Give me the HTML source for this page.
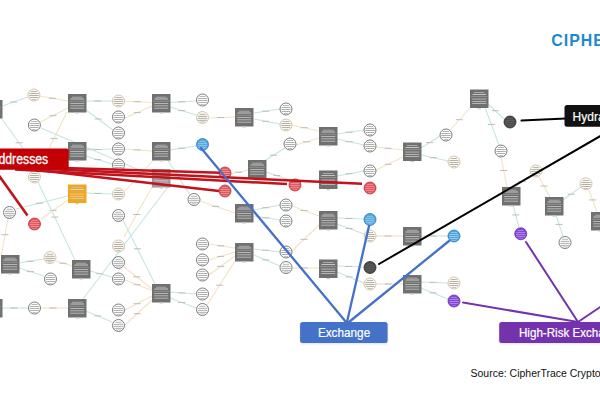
<!DOCTYPE html>
<html><head><meta charset="utf-8"><style>
html,body{margin:0;padding:0;background:#fff;width:600px;height:400px;overflow:hidden;position:relative;font-family:"Liberation Sans",sans-serif;}
svg{position:absolute;left:0;top:0;}
svg.g{filter:blur(0.4px);}
</style></head><body>
<svg width="600" height="400" viewBox="0 0 600 400" class="g"><line x1="2.5" y1="106" x2="27.5" y2="97" stroke="#c6e6e1" stroke-width="1.1"/><rect x="10.2" y="101.5" width="7" height="1" fill="#bdbdbd"/><line x1="40" y1="96" x2="68" y2="101" stroke="#f5e2c2" stroke-width="1.1"/><rect x="49.1" y="97.8" width="7" height="1" fill="#bdbdbd"/><line x1="40.5" y1="122" x2="68" y2="108" stroke="#f5e2c2" stroke-width="1.1"/><rect x="49.4" y="115.2" width="7" height="1" fill="#bdbdbd"/><line x1="67" y1="112" x2="38" y2="171" stroke="#f5e2c2" stroke-width="1.1"/><rect x="50.5" y="138.1" width="7" height="1" fill="#bdbdbd"/><line x1="2" y1="119" x2="40" y2="172" stroke="#c6e6e1" stroke-width="1.1"/><rect x="15.6" y="142.3" width="7" height="1" fill="#bdbdbd"/><line x1="86" y1="101" x2="112" y2="101" stroke="#c6e6e1" stroke-width="1.1"/><rect x="94.2" y="100.5" width="7" height="1" fill="#bdbdbd"/><line x1="86" y1="110" x2="113" y2="130" stroke="#c6e6e1" stroke-width="1.1"/><rect x="94.7" y="118.5" width="7" height="1" fill="#bdbdbd"/><line x1="41" y1="128" x2="151" y2="175" stroke="#c6e6e1" stroke-width="1.1"/><rect x="87.0" y="148.7" width="7" height="1" fill="#bdbdbd"/><line x1="86" y1="150" x2="112" y2="149" stroke="#c6e6e1" stroke-width="1.1"/><rect x="94.2" y="149.1" width="7" height="1" fill="#bdbdbd"/><line x1="86" y1="156" x2="112" y2="164" stroke="#c6e6e1" stroke-width="1.1"/><rect x="94.2" y="159.1" width="7" height="1" fill="#bdbdbd"/><line x1="125" y1="101" x2="152" y2="102.5" stroke="#f5e2c2" stroke-width="1.1"/><rect x="133.7" y="101.2" width="7" height="1" fill="#bdbdbd"/><line x1="125" y1="118" x2="152" y2="106" stroke="#f5e2c2" stroke-width="1.1"/><rect x="133.7" y="112.1" width="7" height="1" fill="#bdbdbd"/><line x1="170" y1="102.5" x2="196" y2="101" stroke="#c6e6e1" stroke-width="1.1"/><rect x="178.2" y="101.3" width="7" height="1" fill="#bdbdbd"/><line x1="170" y1="107" x2="196" y2="115" stroke="#c6e6e1" stroke-width="1.1"/><rect x="178.2" y="110.1" width="7" height="1" fill="#bdbdbd"/><line x1="125" y1="149" x2="152" y2="151" stroke="#f5e2c2" stroke-width="1.1"/><rect x="133.7" y="149.4" width="7" height="1" fill="#bdbdbd"/><line x1="170" y1="150" x2="196" y2="146" stroke="#c6e6e1" stroke-width="1.1"/><rect x="178.2" y="147.7" width="7" height="1" fill="#bdbdbd"/><line x1="168" y1="160.5" x2="190" y2="195" stroke="#c6e6e1" stroke-width="1.1"/><rect x="174.4" y="175.5" width="7" height="1" fill="#bdbdbd"/><line x1="153" y1="160.5" x2="125" y2="191" stroke="#f5e2c2" stroke-width="1.1"/><rect x="136.9" y="173.7" width="7" height="1" fill="#bdbdbd"/><line x1="209" y1="118" x2="235" y2="117" stroke="#f5e2c2" stroke-width="1.1"/><rect x="217.2" y="117.0" width="7" height="1" fill="#bdbdbd"/><line x1="254" y1="113" x2="280" y2="109" stroke="#c6e6e1" stroke-width="1.1"/><rect x="262.2" y="110.7" width="7" height="1" fill="#bdbdbd"/><line x1="254" y1="119" x2="280" y2="124" stroke="#c6e6e1" stroke-width="1.1"/><rect x="262.2" y="120.8" width="7" height="1" fill="#bdbdbd"/><line x1="292" y1="125" x2="319" y2="131" stroke="#f5e2c2" stroke-width="1.1"/><rect x="300.6" y="127.2" width="7" height="1" fill="#bdbdbd"/><line x1="296" y1="145" x2="319" y2="138" stroke="#f5e2c2" stroke-width="1.1"/><rect x="302.9" y="141.3" width="7" height="1" fill="#bdbdbd"/><line x1="337" y1="134" x2="364" y2="130" stroke="#c6e6e1" stroke-width="1.1"/><rect x="345.6" y="131.7" width="7" height="1" fill="#bdbdbd"/><line x1="337" y1="139" x2="364" y2="145" stroke="#c6e6e1" stroke-width="1.1"/><rect x="345.6" y="141.2" width="7" height="1" fill="#bdbdbd"/><line x1="376" y1="147" x2="403" y2="150" stroke="#f5e2c2" stroke-width="1.1"/><rect x="384.6" y="147.8" width="7" height="1" fill="#bdbdbd"/><line x1="376" y1="170" x2="403" y2="157" stroke="#f5e2c2" stroke-width="1.1"/><rect x="384.6" y="163.7" width="7" height="1" fill="#bdbdbd"/><line x1="337" y1="176" x2="364" y2="171" stroke="#c6e6e1" stroke-width="1.1"/><rect x="345.6" y="173.2" width="7" height="1" fill="#bdbdbd"/><line x1="231" y1="174" x2="248" y2="170" stroke="#f5e2c2" stroke-width="1.1"/><rect x="235.2" y="171.7" width="7" height="1" fill="#bdbdbd"/><line x1="264" y1="161" x2="285" y2="148" stroke="#c6e6e1" stroke-width="1.1"/><rect x="269.9" y="154.7" width="7" height="1" fill="#bdbdbd"/><line x1="266" y1="172" x2="290" y2="180" stroke="#c6e6e1" stroke-width="1.1"/><rect x="273.3" y="175.1" width="7" height="1" fill="#bdbdbd"/><line x1="86" y1="193" x2="112" y2="194" stroke="#c6e6e1" stroke-width="1.1"/><rect x="94.2" y="192.9" width="7" height="1" fill="#bdbdbd"/><line x1="16" y1="209" x2="68" y2="196" stroke="#c6e6e1" stroke-width="1.1"/><rect x="35.9" y="202.7" width="7" height="1" fill="#bdbdbd"/><line x1="41" y1="219" x2="68" y2="200" stroke="#f5e2c2" stroke-width="1.1"/><rect x="49.6" y="209.9" width="7" height="1" fill="#bdbdbd"/><line x1="38" y1="182" x2="75" y2="260" stroke="#c6e6e1" stroke-width="1.1"/><rect x="51.2" y="216.6" width="7" height="1" fill="#bdbdbd"/><line x1="8" y1="218" x2="1.4" y2="255" stroke="#f5e2c2" stroke-width="1.1"/><rect x="1.5" y="234.2" width="7" height="1" fill="#bdbdbd"/><line x1="19" y1="263" x2="43.5" y2="259" stroke="#c6e6e1" stroke-width="1.1"/><rect x="26.5" y="260.7" width="7" height="1" fill="#bdbdbd"/><line x1="19" y1="268" x2="44" y2="276" stroke="#c6e6e1" stroke-width="1.1"/><rect x="26.8" y="271.1" width="7" height="1" fill="#bdbdbd"/><line x1="56" y1="261" x2="72" y2="266" stroke="#f5e2c2" stroke-width="1.1"/><rect x="59.7" y="262.8" width="7" height="1" fill="#bdbdbd"/><line x1="90" y1="271" x2="112" y2="277" stroke="#c6e6e1" stroke-width="1.1"/><rect x="96.4" y="273.2" width="7" height="1" fill="#bdbdbd"/><line x1="2" y1="308" x2="28.5" y2="308" stroke="#c6e6e1" stroke-width="1.1"/><rect x="10.4" y="307.5" width="7" height="1" fill="#bdbdbd"/><line x1="41" y1="308" x2="68" y2="308" stroke="#f5e2c2" stroke-width="1.1"/><rect x="49.6" y="307.5" width="7" height="1" fill="#bdbdbd"/><line x1="83" y1="299" x2="168" y2="187" stroke="#c6e6e1" stroke-width="1.1"/><rect x="117.8" y="248.1" width="7" height="1" fill="#bdbdbd"/><line x1="86" y1="311" x2="112" y2="322" stroke="#c6e6e1" stroke-width="1.1"/><rect x="94.2" y="315.4" width="7" height="1" fill="#bdbdbd"/><line x1="124" y1="237" x2="152" y2="187" stroke="#f5e2c2" stroke-width="1.1"/><rect x="133.1" y="214.0" width="7" height="1" fill="#bdbdbd"/><line x1="124" y1="267" x2="152" y2="288.7" stroke="#f5e2c2" stroke-width="1.1"/><rect x="133.1" y="276.3" width="7" height="1" fill="#bdbdbd"/><line x1="125" y1="280" x2="152" y2="290.4" stroke="#f5e2c2" stroke-width="1.1"/><rect x="133.7" y="284.2" width="7" height="1" fill="#bdbdbd"/><line x1="170" y1="292" x2="196" y2="294" stroke="#c6e6e1" stroke-width="1.1"/><rect x="178.2" y="292.4" width="7" height="1" fill="#bdbdbd"/><line x1="170" y1="298" x2="196" y2="308" stroke="#c6e6e1" stroke-width="1.1"/><rect x="178.2" y="302.0" width="7" height="1" fill="#bdbdbd"/><line x1="123" y1="220" x2="155" y2="284" stroke="#c6e6e1" stroke-width="1.1"/><rect x="133.9" y="248.3" width="7" height="1" fill="#bdbdbd"/><line x1="125" y1="310" x2="152" y2="296" stroke="#f5e2c2" stroke-width="1.1"/><rect x="133.7" y="303.2" width="7" height="1" fill="#bdbdbd"/><line x1="125" y1="325" x2="152" y2="300" stroke="#f5e2c2" stroke-width="1.1"/><rect x="133.7" y="313.2" width="7" height="1" fill="#bdbdbd"/><line x1="207" y1="305" x2="235" y2="261" stroke="#f5e2c2" stroke-width="1.1"/><rect x="216.1" y="284.7" width="7" height="1" fill="#bdbdbd"/><line x1="200" y1="201" x2="235" y2="213" stroke="#f5e2c2" stroke-width="1.1"/><rect x="212.2" y="205.9" width="7" height="1" fill="#bdbdbd"/><line x1="209" y1="244" x2="235" y2="248" stroke="#f5e2c2" stroke-width="1.1"/><rect x="217.2" y="245.3" width="7" height="1" fill="#bdbdbd"/><line x1="209" y1="260" x2="235" y2="252" stroke="#f5e2c2" stroke-width="1.1"/><rect x="217.2" y="255.9" width="7" height="1" fill="#bdbdbd"/><line x1="209" y1="275" x2="235" y2="256" stroke="#f5e2c2" stroke-width="1.1"/><rect x="217.2" y="265.9" width="7" height="1" fill="#bdbdbd"/><line x1="254" y1="210" x2="280" y2="205" stroke="#c6e6e1" stroke-width="1.1"/><rect x="262.2" y="207.2" width="7" height="1" fill="#bdbdbd"/><line x1="254" y1="216" x2="280" y2="220" stroke="#c6e6e1" stroke-width="1.1"/><rect x="262.2" y="217.3" width="7" height="1" fill="#bdbdbd"/><line x1="292" y1="206" x2="319" y2="216" stroke="#f5e2c2" stroke-width="1.1"/><rect x="300.6" y="210.0" width="7" height="1" fill="#bdbdbd"/><line x1="292" y1="251" x2="319" y2="225" stroke="#f5e2c2" stroke-width="1.1"/><rect x="300.6" y="238.8" width="7" height="1" fill="#bdbdbd"/><line x1="337" y1="218" x2="364" y2="219" stroke="#c6e6e1" stroke-width="1.1"/><rect x="345.6" y="217.9" width="7" height="1" fill="#bdbdbd"/><line x1="337" y1="224" x2="364" y2="234" stroke="#c6e6e1" stroke-width="1.1"/><rect x="345.6" y="228.0" width="7" height="1" fill="#bdbdbd"/><line x1="376" y1="236" x2="403" y2="236" stroke="#f5e2c2" stroke-width="1.1"/><rect x="384.6" y="235.5" width="7" height="1" fill="#bdbdbd"/><line x1="254" y1="249" x2="280" y2="252" stroke="#c6e6e1" stroke-width="1.1"/><rect x="262.2" y="249.8" width="7" height="1" fill="#bdbdbd"/><line x1="254" y1="255" x2="280" y2="266" stroke="#c6e6e1" stroke-width="1.1"/><rect x="262.2" y="259.4" width="7" height="1" fill="#bdbdbd"/><line x1="292" y1="268" x2="319" y2="268" stroke="#f5e2c2" stroke-width="1.1"/><rect x="300.6" y="267.5" width="7" height="1" fill="#bdbdbd"/><line x1="337" y1="266" x2="363" y2="267" stroke="#c6e6e1" stroke-width="1.1"/><rect x="345.2" y="265.9" width="7" height="1" fill="#bdbdbd"/><line x1="337" y1="272" x2="364" y2="283" stroke="#c6e6e1" stroke-width="1.1"/><rect x="345.6" y="276.4" width="7" height="1" fill="#bdbdbd"/><line x1="376" y1="284" x2="403" y2="284" stroke="#f5e2c2" stroke-width="1.1"/><rect x="384.6" y="283.5" width="7" height="1" fill="#bdbdbd"/><line x1="421" y1="148" x2="440" y2="136" stroke="#c6e6e1" stroke-width="1.1"/><rect x="426.1" y="142.1" width="7" height="1" fill="#bdbdbd"/><line x1="421" y1="155" x2="448" y2="161" stroke="#c6e6e1" stroke-width="1.1"/><rect x="429.6" y="157.2" width="7" height="1" fill="#bdbdbd"/><line x1="450" y1="130" x2="471" y2="107" stroke="#f5e2c2" stroke-width="1.1"/><rect x="455.9" y="119.2" width="7" height="1" fill="#bdbdbd"/><line x1="488" y1="104" x2="504" y2="119" stroke="#c6e6e1" stroke-width="1.1"/><rect x="491.7" y="110.2" width="7" height="1" fill="#bdbdbd"/><line x1="485" y1="107.5" x2="499" y2="145" stroke="#c6e6e1" stroke-width="1.1"/><rect x="487.8" y="123.9" width="7" height="1" fill="#bdbdbd"/><line x1="501" y1="157" x2="507" y2="187" stroke="#f5e2c2" stroke-width="1.1"/><rect x="500.2" y="170.0" width="7" height="1" fill="#bdbdbd"/><line x1="515" y1="187" x2="531" y2="175" stroke="#c6e6e1" stroke-width="1.1"/><rect x="518.7" y="181.1" width="7" height="1" fill="#bdbdbd"/><line x1="539" y1="177" x2="550" y2="197" stroke="#f5e2c2" stroke-width="1.1"/><rect x="540.5" y="185.5" width="7" height="1" fill="#bdbdbd"/><line x1="563" y1="200" x2="581" y2="187" stroke="#c6e6e1" stroke-width="1.1"/><rect x="567.6" y="193.7" width="7" height="1" fill="#bdbdbd"/><line x1="589" y1="190" x2="597" y2="212" stroke="#f5e2c2" stroke-width="1.1"/><rect x="589.1" y="199.4" width="7" height="1" fill="#bdbdbd"/><line x1="421" y1="236" x2="448" y2="236" stroke="#c6e6e1" stroke-width="1.1"/><rect x="429.6" y="235.5" width="7" height="1" fill="#bdbdbd"/><line x1="513" y1="205" x2="519" y2="227" stroke="#c6e6e1" stroke-width="1.1"/><rect x="512.2" y="214.4" width="7" height="1" fill="#bdbdbd"/><line x1="556" y1="215" x2="563" y2="236" stroke="#c6e6e1" stroke-width="1.1"/><rect x="555.6" y="223.9" width="7" height="1" fill="#bdbdbd"/><line x1="421" y1="282" x2="448" y2="283" stroke="#c6e6e1" stroke-width="1.1"/><rect x="429.6" y="281.9" width="7" height="1" fill="#bdbdbd"/><line x1="421" y1="288" x2="448" y2="299" stroke="#c6e6e1" stroke-width="1.1"/><rect x="429.6" y="292.4" width="7" height="1" fill="#bdbdbd"/><g transform="translate(-16,100)"><rect x="0" y="0" width="18.5" height="18.5" fill="#707070"/><rect x="4" y="2.8" width="10.5" height="0.7" fill="#c4c4c4"/><rect x="2.5" y="4.6" width="13.5" height="0.8" fill="#dedede"/><rect x="1.2" y="6.9" width="16" height="0.5" fill="#b0b0b0"/><rect x="2.2" y="9.2" width="14" height="0.7" fill="#d4d4d4"/><rect x="2.2" y="11.5" width="14" height="0.7" fill="#d4d4d4"/><rect x="2.2" y="13.8" width="14" height="0.7" fill="#d4d4d4"/><rect x="7.5" y="18.5" width="3.5" height="1.2" fill="#d0d0d0"/></g><g transform="translate(68,94)"><rect x="0" y="0" width="18.5" height="18.5" fill="#707070"/><rect x="4" y="2.8" width="10.5" height="0.7" fill="#c4c4c4"/><rect x="2.5" y="4.6" width="13.5" height="0.8" fill="#dedede"/><rect x="1.2" y="6.9" width="16" height="0.5" fill="#b0b0b0"/><rect x="2.2" y="9.2" width="14" height="0.7" fill="#d4d4d4"/><rect x="2.2" y="11.5" width="14" height="0.7" fill="#d4d4d4"/><rect x="2.2" y="13.8" width="14" height="0.7" fill="#d4d4d4"/><rect x="7.5" y="18.5" width="3.5" height="1.2" fill="#d0d0d0"/></g><g transform="translate(68,142)"><rect x="0" y="0" width="18.5" height="18.5" fill="#707070"/><rect x="4" y="2.8" width="10.5" height="0.7" fill="#c4c4c4"/><rect x="2.5" y="4.6" width="13.5" height="0.8" fill="#dedede"/><rect x="1.2" y="6.9" width="16" height="0.5" fill="#b0b0b0"/><rect x="2.2" y="9.2" width="14" height="0.7" fill="#d4d4d4"/><rect x="2.2" y="11.5" width="14" height="0.7" fill="#d4d4d4"/><rect x="2.2" y="13.8" width="14" height="0.7" fill="#d4d4d4"/><rect x="7.5" y="18.5" width="3.5" height="1.2" fill="#d0d0d0"/></g><g transform="translate(152,94)"><rect x="0" y="0" width="18.5" height="18.5" fill="#707070"/><rect x="4" y="2.8" width="10.5" height="0.7" fill="#c4c4c4"/><rect x="2.5" y="4.6" width="13.5" height="0.8" fill="#dedede"/><rect x="1.2" y="6.9" width="16" height="0.5" fill="#b0b0b0"/><rect x="2.2" y="9.2" width="14" height="0.7" fill="#d4d4d4"/><rect x="2.2" y="11.5" width="14" height="0.7" fill="#d4d4d4"/><rect x="2.2" y="13.8" width="14" height="0.7" fill="#d4d4d4"/><rect x="7.5" y="18.5" width="3.5" height="1.2" fill="#d0d0d0"/></g><g transform="translate(152,142)"><rect x="0" y="0" width="18.5" height="18.5" fill="#707070"/><rect x="4" y="2.8" width="10.5" height="0.7" fill="#c4c4c4"/><rect x="2.5" y="4.6" width="13.5" height="0.8" fill="#dedede"/><rect x="1.2" y="6.9" width="16" height="0.5" fill="#b0b0b0"/><rect x="2.2" y="9.2" width="14" height="0.7" fill="#d4d4d4"/><rect x="2.2" y="11.5" width="14" height="0.7" fill="#d4d4d4"/><rect x="2.2" y="13.8" width="14" height="0.7" fill="#d4d4d4"/><rect x="7.5" y="18.5" width="3.5" height="1.2" fill="#d0d0d0"/></g><g transform="translate(235,108)"><rect x="0" y="0" width="18.5" height="18.5" fill="#707070"/><rect x="4" y="2.8" width="10.5" height="0.7" fill="#c4c4c4"/><rect x="2.5" y="4.6" width="13.5" height="0.8" fill="#dedede"/><rect x="1.2" y="6.9" width="16" height="0.5" fill="#b0b0b0"/><rect x="2.2" y="9.2" width="14" height="0.7" fill="#d4d4d4"/><rect x="2.2" y="11.5" width="14" height="0.7" fill="#d4d4d4"/><rect x="2.2" y="13.8" width="14" height="0.7" fill="#d4d4d4"/><rect x="7.5" y="18.5" width="3.5" height="1.2" fill="#d0d0d0"/></g><g transform="translate(248,160)"><rect x="0" y="0" width="18.5" height="18.5" fill="#707070"/><rect x="4" y="2.8" width="10.5" height="0.7" fill="#c4c4c4"/><rect x="2.5" y="4.6" width="13.5" height="0.8" fill="#dedede"/><rect x="1.2" y="6.9" width="16" height="0.5" fill="#b0b0b0"/><rect x="2.2" y="9.2" width="14" height="0.7" fill="#d4d4d4"/><rect x="2.2" y="11.5" width="14" height="0.7" fill="#d4d4d4"/><rect x="2.2" y="13.8" width="14" height="0.7" fill="#d4d4d4"/><rect x="7.5" y="18.5" width="3.5" height="1.2" fill="#d0d0d0"/></g><g transform="translate(235,204)"><rect x="0" y="0" width="18.5" height="18.5" fill="#707070"/><rect x="4" y="2.8" width="10.5" height="0.7" fill="#c4c4c4"/><rect x="2.5" y="4.6" width="13.5" height="0.8" fill="#dedede"/><rect x="1.2" y="6.9" width="16" height="0.5" fill="#b0b0b0"/><rect x="2.2" y="9.2" width="14" height="0.7" fill="#d4d4d4"/><rect x="2.2" y="11.5" width="14" height="0.7" fill="#d4d4d4"/><rect x="2.2" y="13.8" width="14" height="0.7" fill="#d4d4d4"/><rect x="7.5" y="18.5" width="3.5" height="1.2" fill="#d0d0d0"/></g><g transform="translate(235,243)"><rect x="0" y="0" width="18.5" height="18.5" fill="#707070"/><rect x="4" y="2.8" width="10.5" height="0.7" fill="#c4c4c4"/><rect x="2.5" y="4.6" width="13.5" height="0.8" fill="#dedede"/><rect x="1.2" y="6.9" width="16" height="0.5" fill="#b0b0b0"/><rect x="2.2" y="9.2" width="14" height="0.7" fill="#d4d4d4"/><rect x="2.2" y="11.5" width="14" height="0.7" fill="#d4d4d4"/><rect x="2.2" y="13.8" width="14" height="0.7" fill="#d4d4d4"/><rect x="7.5" y="18.5" width="3.5" height="1.2" fill="#d0d0d0"/></g><g transform="translate(152,284)"><rect x="0" y="0" width="18.5" height="18.5" fill="#707070"/><rect x="4" y="2.8" width="10.5" height="0.7" fill="#c4c4c4"/><rect x="2.5" y="4.6" width="13.5" height="0.8" fill="#dedede"/><rect x="1.2" y="6.9" width="16" height="0.5" fill="#b0b0b0"/><rect x="2.2" y="9.2" width="14" height="0.7" fill="#d4d4d4"/><rect x="2.2" y="11.5" width="14" height="0.7" fill="#d4d4d4"/><rect x="2.2" y="13.8" width="14" height="0.7" fill="#d4d4d4"/><rect x="7.5" y="18.5" width="3.5" height="1.2" fill="#d0d0d0"/></g><g transform="translate(319,127)"><rect x="0" y="0" width="18.5" height="18.5" fill="#707070"/><rect x="4" y="2.8" width="10.5" height="0.7" fill="#c4c4c4"/><rect x="2.5" y="4.6" width="13.5" height="0.8" fill="#dedede"/><rect x="1.2" y="6.9" width="16" height="0.5" fill="#b0b0b0"/><rect x="2.2" y="9.2" width="14" height="0.7" fill="#d4d4d4"/><rect x="2.2" y="11.5" width="14" height="0.7" fill="#d4d4d4"/><rect x="2.2" y="13.8" width="14" height="0.7" fill="#d4d4d4"/><rect x="7.5" y="18.5" width="3.5" height="1.2" fill="#d0d0d0"/></g><g transform="translate(319,170.5)"><rect x="0" y="0" width="18.5" height="18.5" fill="#707070"/><rect x="4" y="2.8" width="10.5" height="0.7" fill="#c4c4c4"/><rect x="2.5" y="4.6" width="13.5" height="0.8" fill="#dedede"/><rect x="1.2" y="6.9" width="16" height="0.5" fill="#b0b0b0"/><rect x="2.2" y="9.2" width="14" height="0.7" fill="#d4d4d4"/><rect x="2.2" y="11.5" width="14" height="0.7" fill="#d4d4d4"/><rect x="2.2" y="13.8" width="14" height="0.7" fill="#d4d4d4"/><rect x="7.5" y="18.5" width="3.5" height="1.2" fill="#d0d0d0"/></g><g transform="translate(319,211)"><rect x="0" y="0" width="18.5" height="18.5" fill="#707070"/><rect x="4" y="2.8" width="10.5" height="0.7" fill="#c4c4c4"/><rect x="2.5" y="4.6" width="13.5" height="0.8" fill="#dedede"/><rect x="1.2" y="6.9" width="16" height="0.5" fill="#b0b0b0"/><rect x="2.2" y="9.2" width="14" height="0.7" fill="#d4d4d4"/><rect x="2.2" y="11.5" width="14" height="0.7" fill="#d4d4d4"/><rect x="2.2" y="13.8" width="14" height="0.7" fill="#d4d4d4"/><rect x="7.5" y="18.5" width="3.5" height="1.2" fill="#d0d0d0"/></g><g transform="translate(319,259.5)"><rect x="0" y="0" width="18.5" height="18.5" fill="#707070"/><rect x="4" y="2.8" width="10.5" height="0.7" fill="#c4c4c4"/><rect x="2.5" y="4.6" width="13.5" height="0.8" fill="#dedede"/><rect x="1.2" y="6.9" width="16" height="0.5" fill="#b0b0b0"/><rect x="2.2" y="9.2" width="14" height="0.7" fill="#d4d4d4"/><rect x="2.2" y="11.5" width="14" height="0.7" fill="#d4d4d4"/><rect x="2.2" y="13.8" width="14" height="0.7" fill="#d4d4d4"/><rect x="7.5" y="18.5" width="3.5" height="1.2" fill="#d0d0d0"/></g><g transform="translate(403,275)"><rect x="0" y="0" width="18.5" height="18.5" fill="#707070"/><rect x="4" y="2.8" width="10.5" height="0.7" fill="#c4c4c4"/><rect x="2.5" y="4.6" width="13.5" height="0.8" fill="#dedede"/><rect x="1.2" y="6.9" width="16" height="0.5" fill="#b0b0b0"/><rect x="2.2" y="9.2" width="14" height="0.7" fill="#d4d4d4"/><rect x="2.2" y="11.5" width="14" height="0.7" fill="#d4d4d4"/><rect x="2.2" y="13.8" width="14" height="0.7" fill="#d4d4d4"/><rect x="7.5" y="18.5" width="3.5" height="1.2" fill="#d0d0d0"/></g><g transform="translate(403,142.5)"><rect x="0" y="0" width="18.5" height="18.5" fill="#707070"/><rect x="4" y="2.8" width="10.5" height="0.7" fill="#c4c4c4"/><rect x="2.5" y="4.6" width="13.5" height="0.8" fill="#dedede"/><rect x="1.2" y="6.9" width="16" height="0.5" fill="#b0b0b0"/><rect x="2.2" y="9.2" width="14" height="0.7" fill="#d4d4d4"/><rect x="2.2" y="11.5" width="14" height="0.7" fill="#d4d4d4"/><rect x="2.2" y="13.8" width="14" height="0.7" fill="#d4d4d4"/><rect x="7.5" y="18.5" width="3.5" height="1.2" fill="#d0d0d0"/></g><g transform="translate(403,227)"><rect x="0" y="0" width="18.5" height="18.5" fill="#707070"/><rect x="4" y="2.8" width="10.5" height="0.7" fill="#c4c4c4"/><rect x="2.5" y="4.6" width="13.5" height="0.8" fill="#dedede"/><rect x="1.2" y="6.9" width="16" height="0.5" fill="#b0b0b0"/><rect x="2.2" y="9.2" width="14" height="0.7" fill="#d4d4d4"/><rect x="2.2" y="11.5" width="14" height="0.7" fill="#d4d4d4"/><rect x="2.2" y="13.8" width="14" height="0.7" fill="#d4d4d4"/><rect x="7.5" y="18.5" width="3.5" height="1.2" fill="#d0d0d0"/></g><g transform="translate(470,89.5)"><rect x="0" y="0" width="18.5" height="18.5" fill="#707070"/><rect x="4" y="2.8" width="10.5" height="0.7" fill="#c4c4c4"/><rect x="2.5" y="4.6" width="13.5" height="0.8" fill="#dedede"/><rect x="1.2" y="6.9" width="16" height="0.5" fill="#b0b0b0"/><rect x="2.2" y="9.2" width="14" height="0.7" fill="#d4d4d4"/><rect x="2.2" y="11.5" width="14" height="0.7" fill="#d4d4d4"/><rect x="2.2" y="13.8" width="14" height="0.7" fill="#d4d4d4"/><rect x="7.5" y="18.5" width="3.5" height="1.2" fill="#d0d0d0"/></g><g transform="translate(502,187)"><rect x="0" y="0" width="18.5" height="18.5" fill="#707070"/><rect x="4" y="2.8" width="10.5" height="0.7" fill="#c4c4c4"/><rect x="2.5" y="4.6" width="13.5" height="0.8" fill="#dedede"/><rect x="1.2" y="6.9" width="16" height="0.5" fill="#b0b0b0"/><rect x="2.2" y="9.2" width="14" height="0.7" fill="#d4d4d4"/><rect x="2.2" y="11.5" width="14" height="0.7" fill="#d4d4d4"/><rect x="2.2" y="13.8" width="14" height="0.7" fill="#d4d4d4"/><rect x="7.5" y="18.5" width="3.5" height="1.2" fill="#d0d0d0"/></g><g transform="translate(545,197)"><rect x="0" y="0" width="18.5" height="18.5" fill="#707070"/><rect x="4" y="2.8" width="10.5" height="0.7" fill="#c4c4c4"/><rect x="2.5" y="4.6" width="13.5" height="0.8" fill="#dedede"/><rect x="1.2" y="6.9" width="16" height="0.5" fill="#b0b0b0"/><rect x="2.2" y="9.2" width="14" height="0.7" fill="#d4d4d4"/><rect x="2.2" y="11.5" width="14" height="0.7" fill="#d4d4d4"/><rect x="2.2" y="13.8" width="14" height="0.7" fill="#d4d4d4"/><rect x="7.5" y="18.5" width="3.5" height="1.2" fill="#d0d0d0"/></g><g transform="translate(591,212)"><rect x="0" y="0" width="18.5" height="18.5" fill="#707070"/><rect x="4" y="2.8" width="10.5" height="0.7" fill="#c4c4c4"/><rect x="2.5" y="4.6" width="13.5" height="0.8" fill="#dedede"/><rect x="1.2" y="6.9" width="16" height="0.5" fill="#b0b0b0"/><rect x="2.2" y="9.2" width="14" height="0.7" fill="#d4d4d4"/><rect x="2.2" y="11.5" width="14" height="0.7" fill="#d4d4d4"/><rect x="2.2" y="13.8" width="14" height="0.7" fill="#d4d4d4"/><rect x="7.5" y="18.5" width="3.5" height="1.2" fill="#d0d0d0"/></g><g transform="translate(1,255)"><rect x="0" y="0" width="18.5" height="18.5" fill="#707070"/><rect x="4" y="2.8" width="10.5" height="0.7" fill="#c4c4c4"/><rect x="2.5" y="4.6" width="13.5" height="0.8" fill="#dedede"/><rect x="1.2" y="6.9" width="16" height="0.5" fill="#b0b0b0"/><rect x="2.2" y="9.2" width="14" height="0.7" fill="#d4d4d4"/><rect x="2.2" y="11.5" width="14" height="0.7" fill="#d4d4d4"/><rect x="2.2" y="13.8" width="14" height="0.7" fill="#d4d4d4"/><rect x="7.5" y="18.5" width="3.5" height="1.2" fill="#d0d0d0"/></g><g transform="translate(72,260)"><rect x="0" y="0" width="18.5" height="18.5" fill="#707070"/><rect x="4" y="2.8" width="10.5" height="0.7" fill="#c4c4c4"/><rect x="2.5" y="4.6" width="13.5" height="0.8" fill="#dedede"/><rect x="1.2" y="6.9" width="16" height="0.5" fill="#b0b0b0"/><rect x="2.2" y="9.2" width="14" height="0.7" fill="#d4d4d4"/><rect x="2.2" y="11.5" width="14" height="0.7" fill="#d4d4d4"/><rect x="2.2" y="13.8" width="14" height="0.7" fill="#d4d4d4"/><rect x="7.5" y="18.5" width="3.5" height="1.2" fill="#d0d0d0"/></g><g transform="translate(-16,299)"><rect x="0" y="0" width="18.5" height="18.5" fill="#707070"/><rect x="4" y="2.8" width="10.5" height="0.7" fill="#c4c4c4"/><rect x="2.5" y="4.6" width="13.5" height="0.8" fill="#dedede"/><rect x="1.2" y="6.9" width="16" height="0.5" fill="#b0b0b0"/><rect x="2.2" y="9.2" width="14" height="0.7" fill="#d4d4d4"/><rect x="2.2" y="11.5" width="14" height="0.7" fill="#d4d4d4"/><rect x="2.2" y="13.8" width="14" height="0.7" fill="#d4d4d4"/><rect x="7.5" y="18.5" width="3.5" height="1.2" fill="#d0d0d0"/></g><g transform="translate(68,299)"><rect x="0" y="0" width="18.5" height="18.5" fill="#707070"/><rect x="4" y="2.8" width="10.5" height="0.7" fill="#c4c4c4"/><rect x="2.5" y="4.6" width="13.5" height="0.8" fill="#dedede"/><rect x="1.2" y="6.9" width="16" height="0.5" fill="#b0b0b0"/><rect x="2.2" y="9.2" width="14" height="0.7" fill="#d4d4d4"/><rect x="2.2" y="11.5" width="14" height="0.7" fill="#d4d4d4"/><rect x="2.2" y="13.8" width="14" height="0.7" fill="#d4d4d4"/><rect x="7.5" y="18.5" width="3.5" height="1.2" fill="#d0d0d0"/></g><g transform="translate(68,184.5)"><rect x="0" y="0" width="18.5" height="18.5" fill="#f2a81e"/><rect x="4" y="2.8" width="10.5" height="0.7" fill="#c4c4c4"/><rect x="2.5" y="4.6" width="13.5" height="0.8" fill="#dedede"/><rect x="1.2" y="6.9" width="16" height="0.5" fill="#b0b0b0"/><rect x="2.2" y="9.2" width="14" height="0.7" fill="#d4d4d4"/><rect x="2.2" y="11.5" width="14" height="0.7" fill="#d4d4d4"/><rect x="2.2" y="13.8" width="14" height="0.7" fill="#d4d4d4"/><rect x="7.5" y="18.5" width="3.5" height="1.2" fill="#d0d0d0"/></g><g transform="translate(152,169)"><rect x="0" y="0" width="18.5" height="18.5" fill="#9a9a9a"/><rect x="4" y="2.8" width="10.5" height="0.7" fill="#c4c4c4"/><rect x="2.5" y="4.6" width="13.5" height="0.8" fill="#dedede"/><rect x="1.2" y="6.9" width="16" height="0.5" fill="#b0b0b0"/><rect x="2.2" y="9.2" width="14" height="0.7" fill="#d4d4d4"/><rect x="2.2" y="11.5" width="14" height="0.7" fill="#d4d4d4"/><rect x="2.2" y="13.8" width="14" height="0.7" fill="#d4d4d4"/><rect x="7.5" y="18.5" width="3.5" height="1.2" fill="#d0d0d0"/></g><circle cx="33.9" cy="95" r="6.0" fill="#fdf9f0" stroke="#c8b898" stroke-width="0.8"/><rect x="30.90" y="91.40" width="6" height="0.55" fill="#808080"/><rect x="29.40" y="93.40" width="9" height="0.6" fill="#808080"/><rect x="29.15" y="95.40" width="9.5" height="0.6" fill="#808080"/><rect x="29.65" y="97.40" width="8.5" height="0.6" fill="#808080"/><rect x="31.65" y="99.20" width="4.5" height="0.45" fill="#808080"/><circle cx="34.4" cy="125" r="6.0" fill="#ffffff" stroke="#5c5c5c" stroke-width="0.8"/><rect x="31.40" y="121.40" width="6" height="0.55" fill="#7a7a7a"/><rect x="29.90" y="123.40" width="9" height="0.6" fill="#7a7a7a"/><rect x="29.65" y="125.40" width="9.5" height="0.6" fill="#7a7a7a"/><rect x="30.15" y="127.40" width="8.5" height="0.6" fill="#7a7a7a"/><rect x="32.15" y="129.20" width="4.5" height="0.45" fill="#7a7a7a"/><circle cx="34.4" cy="177" r="6.0" fill="#fdf9f0" stroke="#c8b898" stroke-width="0.8"/><rect x="31.40" y="173.40" width="6" height="0.55" fill="#808080"/><rect x="29.90" y="175.40" width="9" height="0.6" fill="#808080"/><rect x="29.65" y="177.40" width="9.5" height="0.6" fill="#808080"/><rect x="30.15" y="179.40" width="8.5" height="0.6" fill="#808080"/><rect x="32.15" y="181.20" width="4.5" height="0.45" fill="#808080"/><circle cx="34.5" cy="224" r="6.0" fill="#e0585e" stroke="#c03038" stroke-width="0.8"/><rect x="31.50" y="220.40" width="6" height="0.55" fill="#f4b0b0"/><rect x="30.00" y="222.40" width="9" height="0.6" fill="#f4b0b0"/><rect x="29.75" y="224.40" width="9.5" height="0.6" fill="#f4b0b0"/><rect x="30.25" y="226.40" width="8.5" height="0.6" fill="#f4b0b0"/><rect x="32.25" y="228.20" width="4.5" height="0.45" fill="#f4b0b0"/><circle cx="34.5" cy="308" r="6.0" fill="#ffffff" stroke="#5c5c5c" stroke-width="0.8"/><rect x="31.50" y="304.40" width="6" height="0.55" fill="#7a7a7a"/><rect x="30.00" y="306.40" width="9" height="0.6" fill="#7a7a7a"/><rect x="29.75" y="308.40" width="9.5" height="0.6" fill="#7a7a7a"/><rect x="30.25" y="310.40" width="8.5" height="0.6" fill="#7a7a7a"/><rect x="32.25" y="312.20" width="4.5" height="0.45" fill="#7a7a7a"/><circle cx="9.5" cy="212.5" r="6.0" fill="#ffffff" stroke="#5c5c5c" stroke-width="0.8"/><rect x="6.50" y="208.90" width="6" height="0.55" fill="#7a7a7a"/><rect x="5.00" y="210.90" width="9" height="0.6" fill="#7a7a7a"/><rect x="4.75" y="212.90" width="9.5" height="0.6" fill="#7a7a7a"/><rect x="5.25" y="214.90" width="8.5" height="0.6" fill="#7a7a7a"/><rect x="7.25" y="216.70" width="4.5" height="0.45" fill="#7a7a7a"/><circle cx="50" cy="257.5" r="6.0" fill="#fdf9f0" stroke="#c8b898" stroke-width="0.8"/><rect x="47.00" y="253.90" width="6" height="0.55" fill="#808080"/><rect x="45.50" y="255.90" width="9" height="0.6" fill="#808080"/><rect x="45.25" y="257.90" width="9.5" height="0.6" fill="#808080"/><rect x="45.75" y="259.90" width="8.5" height="0.6" fill="#808080"/><rect x="47.75" y="261.70" width="4.5" height="0.45" fill="#808080"/><circle cx="50.5" cy="279" r="6.0" fill="#ffffff" stroke="#5c5c5c" stroke-width="0.8"/><rect x="47.50" y="275.40" width="6" height="0.55" fill="#7a7a7a"/><rect x="46.00" y="277.40" width="9" height="0.6" fill="#7a7a7a"/><rect x="45.75" y="279.40" width="9.5" height="0.6" fill="#7a7a7a"/><rect x="46.25" y="281.40" width="8.5" height="0.6" fill="#7a7a7a"/><rect x="48.25" y="283.20" width="4.5" height="0.45" fill="#7a7a7a"/><circle cx="118.5" cy="101" r="6.0" fill="#fdf9f0" stroke="#c8b898" stroke-width="0.8"/><rect x="115.50" y="97.40" width="6" height="0.55" fill="#808080"/><rect x="114.00" y="99.40" width="9" height="0.6" fill="#808080"/><rect x="113.75" y="101.40" width="9.5" height="0.6" fill="#808080"/><rect x="114.25" y="103.40" width="8.5" height="0.6" fill="#808080"/><rect x="116.25" y="105.20" width="4.5" height="0.45" fill="#808080"/><circle cx="118.5" cy="117" r="6.0" fill="#ffffff" stroke="#5c5c5c" stroke-width="0.8"/><rect x="115.50" y="113.40" width="6" height="0.55" fill="#7a7a7a"/><rect x="114.00" y="115.40" width="9" height="0.6" fill="#7a7a7a"/><rect x="113.75" y="117.40" width="9.5" height="0.6" fill="#7a7a7a"/><rect x="114.25" y="119.40" width="8.5" height="0.6" fill="#7a7a7a"/><rect x="116.25" y="121.20" width="4.5" height="0.45" fill="#7a7a7a"/><circle cx="118.5" cy="133" r="6.0" fill="#ffffff" stroke="#5c5c5c" stroke-width="0.8"/><rect x="115.50" y="129.40" width="6" height="0.55" fill="#7a7a7a"/><rect x="114.00" y="131.40" width="9" height="0.6" fill="#7a7a7a"/><rect x="113.75" y="133.40" width="9.5" height="0.6" fill="#7a7a7a"/><rect x="114.25" y="135.40" width="8.5" height="0.6" fill="#7a7a7a"/><rect x="116.25" y="137.20" width="4.5" height="0.45" fill="#7a7a7a"/><circle cx="118.5" cy="149" r="6.0" fill="#ffffff" stroke="#5c5c5c" stroke-width="0.8"/><rect x="115.50" y="145.40" width="6" height="0.55" fill="#7a7a7a"/><rect x="114.00" y="147.40" width="9" height="0.6" fill="#7a7a7a"/><rect x="113.75" y="149.40" width="9.5" height="0.6" fill="#7a7a7a"/><rect x="114.25" y="151.40" width="8.5" height="0.6" fill="#7a7a7a"/><rect x="116.25" y="153.20" width="4.5" height="0.45" fill="#7a7a7a"/><circle cx="118.5" cy="165" r="6.0" fill="#ffffff" stroke="#5c5c5c" stroke-width="0.8"/><rect x="115.50" y="161.40" width="6" height="0.55" fill="#7a7a7a"/><rect x="114.00" y="163.40" width="9" height="0.6" fill="#7a7a7a"/><rect x="113.75" y="165.40" width="9.5" height="0.6" fill="#7a7a7a"/><rect x="114.25" y="167.40" width="8.5" height="0.6" fill="#7a7a7a"/><rect x="116.25" y="169.20" width="4.5" height="0.45" fill="#7a7a7a"/><circle cx="118.5" cy="194" r="6.0" fill="#fdf9f0" stroke="#c8b898" stroke-width="0.8"/><rect x="115.50" y="190.40" width="6" height="0.55" fill="#808080"/><rect x="114.00" y="192.40" width="9" height="0.6" fill="#808080"/><rect x="113.75" y="194.40" width="9.5" height="0.6" fill="#808080"/><rect x="114.25" y="196.40" width="8.5" height="0.6" fill="#808080"/><rect x="116.25" y="198.20" width="4.5" height="0.45" fill="#808080"/><circle cx="118.5" cy="215.5" r="6.0" fill="#ffffff" stroke="#5c5c5c" stroke-width="0.8"/><rect x="115.50" y="211.90" width="6" height="0.55" fill="#7a7a7a"/><rect x="114.00" y="213.90" width="9" height="0.6" fill="#7a7a7a"/><rect x="113.75" y="215.90" width="9.5" height="0.6" fill="#7a7a7a"/><rect x="114.25" y="217.90" width="8.5" height="0.6" fill="#7a7a7a"/><rect x="116.25" y="219.70" width="4.5" height="0.45" fill="#7a7a7a"/><circle cx="118.5" cy="246" r="6.0" fill="#fdf9f0" stroke="#c8b898" stroke-width="0.8"/><rect x="115.50" y="242.40" width="6" height="0.55" fill="#808080"/><rect x="114.00" y="244.40" width="9" height="0.6" fill="#808080"/><rect x="113.75" y="246.40" width="9.5" height="0.6" fill="#808080"/><rect x="114.25" y="248.40" width="8.5" height="0.6" fill="#808080"/><rect x="116.25" y="250.20" width="4.5" height="0.45" fill="#808080"/><circle cx="118.5" cy="262.5" r="6.0" fill="#ffffff" stroke="#5c5c5c" stroke-width="0.8"/><rect x="115.50" y="258.90" width="6" height="0.55" fill="#7a7a7a"/><rect x="114.00" y="260.90" width="9" height="0.6" fill="#7a7a7a"/><rect x="113.75" y="262.90" width="9.5" height="0.6" fill="#7a7a7a"/><rect x="114.25" y="264.90" width="8.5" height="0.6" fill="#7a7a7a"/><rect x="116.25" y="266.70" width="4.5" height="0.45" fill="#7a7a7a"/><circle cx="118.5" cy="279" r="6.0" fill="#ffffff" stroke="#5c5c5c" stroke-width="0.8"/><rect x="115.50" y="275.40" width="6" height="0.55" fill="#7a7a7a"/><rect x="114.00" y="277.40" width="9" height="0.6" fill="#7a7a7a"/><rect x="113.75" y="279.40" width="9.5" height="0.6" fill="#7a7a7a"/><rect x="114.25" y="281.40" width="8.5" height="0.6" fill="#7a7a7a"/><rect x="116.25" y="283.20" width="4.5" height="0.45" fill="#7a7a7a"/><circle cx="118.5" cy="310" r="6.0" fill="#ffffff" stroke="#5c5c5c" stroke-width="0.8"/><rect x="115.50" y="306.40" width="6" height="0.55" fill="#7a7a7a"/><rect x="114.00" y="308.40" width="9" height="0.6" fill="#7a7a7a"/><rect x="113.75" y="310.40" width="9.5" height="0.6" fill="#7a7a7a"/><rect x="114.25" y="312.40" width="8.5" height="0.6" fill="#7a7a7a"/><rect x="116.25" y="314.20" width="4.5" height="0.45" fill="#7a7a7a"/><circle cx="118.5" cy="325.5" r="6.0" fill="#ffffff" stroke="#5c5c5c" stroke-width="0.8"/><rect x="115.50" y="321.90" width="6" height="0.55" fill="#7a7a7a"/><rect x="114.00" y="323.90" width="9" height="0.6" fill="#7a7a7a"/><rect x="113.75" y="325.90" width="9.5" height="0.6" fill="#7a7a7a"/><rect x="114.25" y="327.90" width="8.5" height="0.6" fill="#7a7a7a"/><rect x="116.25" y="329.70" width="4.5" height="0.45" fill="#7a7a7a"/><circle cx="202.5" cy="100" r="6.0" fill="#ffffff" stroke="#5c5c5c" stroke-width="0.8"/><rect x="199.50" y="96.40" width="6" height="0.55" fill="#7a7a7a"/><rect x="198.00" y="98.40" width="9" height="0.6" fill="#7a7a7a"/><rect x="197.75" y="100.40" width="9.5" height="0.6" fill="#7a7a7a"/><rect x="198.25" y="102.40" width="8.5" height="0.6" fill="#7a7a7a"/><rect x="200.25" y="104.20" width="4.5" height="0.45" fill="#7a7a7a"/><circle cx="202.5" cy="117.5" r="6.0" fill="#fdf9f0" stroke="#c8b898" stroke-width="0.8"/><rect x="199.50" y="113.90" width="6" height="0.55" fill="#808080"/><rect x="198.00" y="115.90" width="9" height="0.6" fill="#808080"/><rect x="197.75" y="117.90" width="9.5" height="0.6" fill="#808080"/><rect x="198.25" y="119.90" width="8.5" height="0.6" fill="#808080"/><rect x="200.25" y="121.70" width="4.5" height="0.45" fill="#808080"/><circle cx="202.5" cy="144.5" r="6.0" fill="#4fa6dc" stroke="#2a78bd" stroke-width="0.8"/><rect x="199.50" y="140.90" width="6" height="0.55" fill="#c0e0f4"/><rect x="198.00" y="142.90" width="9" height="0.6" fill="#c0e0f4"/><rect x="197.75" y="144.90" width="9.5" height="0.6" fill="#c0e0f4"/><rect x="198.25" y="146.90" width="8.5" height="0.6" fill="#c0e0f4"/><rect x="200.25" y="148.70" width="4.5" height="0.45" fill="#c0e0f4"/><circle cx="202.5" cy="244" r="6.0" fill="#ffffff" stroke="#5c5c5c" stroke-width="0.8"/><rect x="199.50" y="240.40" width="6" height="0.55" fill="#7a7a7a"/><rect x="198.00" y="242.40" width="9" height="0.6" fill="#7a7a7a"/><rect x="197.75" y="244.40" width="9.5" height="0.6" fill="#7a7a7a"/><rect x="198.25" y="246.40" width="8.5" height="0.6" fill="#7a7a7a"/><rect x="200.25" y="248.20" width="4.5" height="0.45" fill="#7a7a7a"/><circle cx="202.5" cy="260" r="6.0" fill="#ffffff" stroke="#5c5c5c" stroke-width="0.8"/><rect x="199.50" y="256.40" width="6" height="0.55" fill="#7a7a7a"/><rect x="198.00" y="258.40" width="9" height="0.6" fill="#7a7a7a"/><rect x="197.75" y="260.40" width="9.5" height="0.6" fill="#7a7a7a"/><rect x="198.25" y="262.40" width="8.5" height="0.6" fill="#7a7a7a"/><rect x="200.25" y="264.20" width="4.5" height="0.45" fill="#7a7a7a"/><circle cx="202.5" cy="275" r="6.0" fill="#ffffff" stroke="#5c5c5c" stroke-width="0.8"/><rect x="199.50" y="271.40" width="6" height="0.55" fill="#7a7a7a"/><rect x="198.00" y="273.40" width="9" height="0.6" fill="#7a7a7a"/><rect x="197.75" y="275.40" width="9.5" height="0.6" fill="#7a7a7a"/><rect x="198.25" y="277.40" width="8.5" height="0.6" fill="#7a7a7a"/><rect x="200.25" y="279.20" width="4.5" height="0.45" fill="#7a7a7a"/><circle cx="202.5" cy="294" r="6.0" fill="#ffffff" stroke="#5c5c5c" stroke-width="0.8"/><rect x="199.50" y="290.40" width="6" height="0.55" fill="#7a7a7a"/><rect x="198.00" y="292.40" width="9" height="0.6" fill="#7a7a7a"/><rect x="197.75" y="294.40" width="9.5" height="0.6" fill="#7a7a7a"/><rect x="198.25" y="296.40" width="8.5" height="0.6" fill="#7a7a7a"/><rect x="200.25" y="298.20" width="4.5" height="0.45" fill="#7a7a7a"/><circle cx="202.5" cy="309.5" r="6.0" fill="#ffffff" stroke="#5c5c5c" stroke-width="0.8"/><rect x="199.50" y="305.90" width="6" height="0.55" fill="#7a7a7a"/><rect x="198.00" y="307.90" width="9" height="0.6" fill="#7a7a7a"/><rect x="197.75" y="309.90" width="9.5" height="0.6" fill="#7a7a7a"/><rect x="198.25" y="311.90" width="8.5" height="0.6" fill="#7a7a7a"/><rect x="200.25" y="313.70" width="4.5" height="0.45" fill="#7a7a7a"/><circle cx="194" cy="199.5" r="6.0" fill="#ffffff" stroke="#5c5c5c" stroke-width="0.8"/><rect x="191.00" y="195.90" width="6" height="0.55" fill="#7a7a7a"/><rect x="189.50" y="197.90" width="9" height="0.6" fill="#7a7a7a"/><rect x="189.25" y="199.90" width="9.5" height="0.6" fill="#7a7a7a"/><rect x="189.75" y="201.90" width="8.5" height="0.6" fill="#7a7a7a"/><rect x="191.75" y="203.70" width="4.5" height="0.45" fill="#7a7a7a"/><circle cx="225" cy="173" r="6.0" fill="#e0585e" stroke="#c03038" stroke-width="0.8"/><rect x="222.00" y="169.40" width="6" height="0.55" fill="#f4b0b0"/><rect x="220.50" y="171.40" width="9" height="0.6" fill="#f4b0b0"/><rect x="220.25" y="173.40" width="9.5" height="0.6" fill="#f4b0b0"/><rect x="220.75" y="175.40" width="8.5" height="0.6" fill="#f4b0b0"/><rect x="222.75" y="177.20" width="4.5" height="0.45" fill="#f4b0b0"/><circle cx="225" cy="191" r="6.0" fill="#e0585e" stroke="#c03038" stroke-width="0.8"/><rect x="222.00" y="187.40" width="6" height="0.55" fill="#f4b0b0"/><rect x="220.50" y="189.40" width="9" height="0.6" fill="#f4b0b0"/><rect x="220.25" y="191.40" width="9.5" height="0.6" fill="#f4b0b0"/><rect x="220.75" y="193.40" width="8.5" height="0.6" fill="#f4b0b0"/><rect x="222.75" y="195.20" width="4.5" height="0.45" fill="#f4b0b0"/><circle cx="286" cy="109" r="6.0" fill="#ffffff" stroke="#5c5c5c" stroke-width="0.8"/><rect x="283.00" y="105.40" width="6" height="0.55" fill="#7a7a7a"/><rect x="281.50" y="107.40" width="9" height="0.6" fill="#7a7a7a"/><rect x="281.25" y="109.40" width="9.5" height="0.6" fill="#7a7a7a"/><rect x="281.75" y="111.40" width="8.5" height="0.6" fill="#7a7a7a"/><rect x="283.75" y="113.20" width="4.5" height="0.45" fill="#7a7a7a"/><circle cx="286" cy="125" r="6.0" fill="#fdf9f0" stroke="#c8b898" stroke-width="0.8"/><rect x="283.00" y="121.40" width="6" height="0.55" fill="#808080"/><rect x="281.50" y="123.40" width="9" height="0.6" fill="#808080"/><rect x="281.25" y="125.40" width="9.5" height="0.6" fill="#808080"/><rect x="281.75" y="127.40" width="8.5" height="0.6" fill="#808080"/><rect x="283.75" y="129.20" width="4.5" height="0.45" fill="#808080"/><circle cx="286" cy="205" r="6.0" fill="#ffffff" stroke="#5c5c5c" stroke-width="0.8"/><rect x="283.00" y="201.40" width="6" height="0.55" fill="#7a7a7a"/><rect x="281.50" y="203.40" width="9" height="0.6" fill="#7a7a7a"/><rect x="281.25" y="205.40" width="9.5" height="0.6" fill="#7a7a7a"/><rect x="281.75" y="207.40" width="8.5" height="0.6" fill="#7a7a7a"/><rect x="283.75" y="209.20" width="4.5" height="0.45" fill="#7a7a7a"/><circle cx="286" cy="221" r="6.0" fill="#ffffff" stroke="#5c5c5c" stroke-width="0.8"/><rect x="283.00" y="217.40" width="6" height="0.55" fill="#7a7a7a"/><rect x="281.50" y="219.40" width="9" height="0.6" fill="#7a7a7a"/><rect x="281.25" y="221.40" width="9.5" height="0.6" fill="#7a7a7a"/><rect x="281.75" y="223.40" width="8.5" height="0.6" fill="#7a7a7a"/><rect x="283.75" y="225.20" width="4.5" height="0.45" fill="#7a7a7a"/><circle cx="286" cy="252" r="6.0" fill="#ffffff" stroke="#5c5c5c" stroke-width="0.8"/><rect x="283.00" y="248.40" width="6" height="0.55" fill="#7a7a7a"/><rect x="281.50" y="250.40" width="9" height="0.6" fill="#7a7a7a"/><rect x="281.25" y="252.40" width="9.5" height="0.6" fill="#7a7a7a"/><rect x="281.75" y="254.40" width="8.5" height="0.6" fill="#7a7a7a"/><rect x="283.75" y="256.20" width="4.5" height="0.45" fill="#7a7a7a"/><circle cx="286" cy="267.5" r="6.0" fill="#ffffff" stroke="#5c5c5c" stroke-width="0.8"/><rect x="283.00" y="263.90" width="6" height="0.55" fill="#7a7a7a"/><rect x="281.50" y="265.90" width="9" height="0.6" fill="#7a7a7a"/><rect x="281.25" y="267.90" width="9.5" height="0.6" fill="#7a7a7a"/><rect x="281.75" y="269.90" width="8.5" height="0.6" fill="#7a7a7a"/><rect x="283.75" y="271.70" width="4.5" height="0.45" fill="#7a7a7a"/><circle cx="290" cy="144" r="6.0" fill="#ffffff" stroke="#5c5c5c" stroke-width="0.8"/><rect x="287.00" y="140.40" width="6" height="0.55" fill="#7a7a7a"/><rect x="285.50" y="142.40" width="9" height="0.6" fill="#7a7a7a"/><rect x="285.25" y="144.40" width="9.5" height="0.6" fill="#7a7a7a"/><rect x="285.75" y="146.40" width="8.5" height="0.6" fill="#7a7a7a"/><rect x="287.75" y="148.20" width="4.5" height="0.45" fill="#7a7a7a"/><circle cx="295" cy="185" r="6.0" fill="#e0585e" stroke="#c03038" stroke-width="0.8"/><rect x="292.00" y="181.40" width="6" height="0.55" fill="#f4b0b0"/><rect x="290.50" y="183.40" width="9" height="0.6" fill="#f4b0b0"/><rect x="290.25" y="185.40" width="9.5" height="0.6" fill="#f4b0b0"/><rect x="290.75" y="187.40" width="8.5" height="0.6" fill="#f4b0b0"/><rect x="292.75" y="189.20" width="4.5" height="0.45" fill="#f4b0b0"/><circle cx="370" cy="130" r="6.0" fill="#ffffff" stroke="#5c5c5c" stroke-width="0.8"/><rect x="367.00" y="126.40" width="6" height="0.55" fill="#7a7a7a"/><rect x="365.50" y="128.40" width="9" height="0.6" fill="#7a7a7a"/><rect x="365.25" y="130.40" width="9.5" height="0.6" fill="#7a7a7a"/><rect x="365.75" y="132.40" width="8.5" height="0.6" fill="#7a7a7a"/><rect x="367.75" y="134.20" width="4.5" height="0.45" fill="#7a7a7a"/><circle cx="370" cy="146" r="6.0" fill="#ffffff" stroke="#5c5c5c" stroke-width="0.8"/><rect x="367.00" y="142.40" width="6" height="0.55" fill="#7a7a7a"/><rect x="365.50" y="144.40" width="9" height="0.6" fill="#7a7a7a"/><rect x="365.25" y="146.40" width="9.5" height="0.6" fill="#7a7a7a"/><rect x="365.75" y="148.40" width="8.5" height="0.6" fill="#7a7a7a"/><rect x="367.75" y="150.20" width="4.5" height="0.45" fill="#7a7a7a"/><circle cx="370" cy="171" r="6.0" fill="#ffffff" stroke="#5c5c5c" stroke-width="0.8"/><rect x="367.00" y="167.40" width="6" height="0.55" fill="#7a7a7a"/><rect x="365.50" y="169.40" width="9" height="0.6" fill="#7a7a7a"/><rect x="365.25" y="171.40" width="9.5" height="0.6" fill="#7a7a7a"/><rect x="365.75" y="173.40" width="8.5" height="0.6" fill="#7a7a7a"/><rect x="367.75" y="175.20" width="4.5" height="0.45" fill="#7a7a7a"/><circle cx="370" cy="188" r="6.0" fill="#e0585e" stroke="#c03038" stroke-width="0.8"/><rect x="367.00" y="184.40" width="6" height="0.55" fill="#f4b0b0"/><rect x="365.50" y="186.40" width="9" height="0.6" fill="#f4b0b0"/><rect x="365.25" y="188.40" width="9.5" height="0.6" fill="#f4b0b0"/><rect x="365.75" y="190.40" width="8.5" height="0.6" fill="#f4b0b0"/><rect x="367.75" y="192.20" width="4.5" height="0.45" fill="#f4b0b0"/><circle cx="370" cy="219.5" r="6.0" fill="#4fa6dc" stroke="#2a78bd" stroke-width="0.8"/><rect x="367.00" y="215.90" width="6" height="0.55" fill="#c0e0f4"/><rect x="365.50" y="217.90" width="9" height="0.6" fill="#c0e0f4"/><rect x="365.25" y="219.90" width="9.5" height="0.6" fill="#c0e0f4"/><rect x="365.75" y="221.90" width="8.5" height="0.6" fill="#c0e0f4"/><rect x="367.75" y="223.70" width="4.5" height="0.45" fill="#c0e0f4"/><circle cx="370" cy="236" r="6.0" fill="#fdf9f0" stroke="#c8b898" stroke-width="0.8"/><rect x="367.00" y="232.40" width="6" height="0.55" fill="#808080"/><rect x="365.50" y="234.40" width="9" height="0.6" fill="#808080"/><rect x="365.25" y="236.40" width="9.5" height="0.6" fill="#808080"/><rect x="365.75" y="238.40" width="8.5" height="0.6" fill="#808080"/><rect x="367.75" y="240.20" width="4.5" height="0.45" fill="#808080"/><circle cx="370" cy="267.5" r="6.0" fill="#4a4a4a" stroke="#2a2a2a" stroke-width="0.8"/><rect x="367.00" y="263.90" width="6" height="0.55" fill="#6a6a6a"/><rect x="365.50" y="265.90" width="9" height="0.6" fill="#6a6a6a"/><rect x="365.25" y="267.90" width="9.5" height="0.6" fill="#6a6a6a"/><rect x="365.75" y="269.90" width="8.5" height="0.6" fill="#6a6a6a"/><rect x="367.75" y="271.70" width="4.5" height="0.45" fill="#6a6a6a"/><circle cx="370" cy="284" r="6.0" fill="#fdf9f0" stroke="#c8b898" stroke-width="0.8"/><rect x="367.00" y="280.40" width="6" height="0.55" fill="#808080"/><rect x="365.50" y="282.40" width="9" height="0.6" fill="#808080"/><rect x="365.25" y="284.40" width="9.5" height="0.6" fill="#808080"/><rect x="365.75" y="286.40" width="8.5" height="0.6" fill="#808080"/><rect x="367.75" y="288.20" width="4.5" height="0.45" fill="#808080"/><circle cx="446" cy="135" r="6.0" fill="#ffffff" stroke="#5c5c5c" stroke-width="0.8"/><rect x="443.00" y="131.40" width="6" height="0.55" fill="#7a7a7a"/><rect x="441.50" y="133.40" width="9" height="0.6" fill="#7a7a7a"/><rect x="441.25" y="135.40" width="9.5" height="0.6" fill="#7a7a7a"/><rect x="441.75" y="137.40" width="8.5" height="0.6" fill="#7a7a7a"/><rect x="443.75" y="139.20" width="4.5" height="0.45" fill="#7a7a7a"/><circle cx="454" cy="162" r="6.0" fill="#fdf9f0" stroke="#c8b898" stroke-width="0.8"/><rect x="451.00" y="158.40" width="6" height="0.55" fill="#808080"/><rect x="449.50" y="160.40" width="9" height="0.6" fill="#808080"/><rect x="449.25" y="162.40" width="9.5" height="0.6" fill="#808080"/><rect x="449.75" y="164.40" width="8.5" height="0.6" fill="#808080"/><rect x="451.75" y="166.20" width="4.5" height="0.45" fill="#808080"/><circle cx="454" cy="236" r="6.0" fill="#4fa6dc" stroke="#2a78bd" stroke-width="0.8"/><rect x="451.00" y="232.40" width="6" height="0.55" fill="#c0e0f4"/><rect x="449.50" y="234.40" width="9" height="0.6" fill="#c0e0f4"/><rect x="449.25" y="236.40" width="9.5" height="0.6" fill="#c0e0f4"/><rect x="449.75" y="238.40" width="8.5" height="0.6" fill="#c0e0f4"/><rect x="451.75" y="240.20" width="4.5" height="0.45" fill="#c0e0f4"/><circle cx="454" cy="283" r="6.0" fill="#fdf9f0" stroke="#c8b898" stroke-width="0.8"/><rect x="451.00" y="279.40" width="6" height="0.55" fill="#808080"/><rect x="449.50" y="281.40" width="9" height="0.6" fill="#808080"/><rect x="449.25" y="283.40" width="9.5" height="0.6" fill="#808080"/><rect x="449.75" y="285.40" width="8.5" height="0.6" fill="#808080"/><rect x="451.75" y="287.20" width="4.5" height="0.45" fill="#808080"/><circle cx="454" cy="301" r="6.0" fill="#8548d6" stroke="#6428b4" stroke-width="0.8"/><rect x="451.00" y="297.40" width="6" height="0.55" fill="#c8a8f4"/><rect x="449.50" y="299.40" width="9" height="0.6" fill="#c8a8f4"/><rect x="449.25" y="301.40" width="9.5" height="0.6" fill="#c8a8f4"/><rect x="449.75" y="303.40" width="8.5" height="0.6" fill="#c8a8f4"/><rect x="451.75" y="305.20" width="4.5" height="0.45" fill="#c8a8f4"/><circle cx="501" cy="151" r="6.0" fill="#ffffff" stroke="#5c5c5c" stroke-width="0.8"/><rect x="498.00" y="147.40" width="6" height="0.55" fill="#7a7a7a"/><rect x="496.50" y="149.40" width="9" height="0.6" fill="#7a7a7a"/><rect x="496.25" y="151.40" width="9.5" height="0.6" fill="#7a7a7a"/><rect x="496.75" y="153.40" width="8.5" height="0.6" fill="#7a7a7a"/><rect x="498.75" y="155.20" width="4.5" height="0.45" fill="#7a7a7a"/><circle cx="510" cy="122" r="6.0" fill="#4a4a4a" stroke="#2a2a2a" stroke-width="0.8"/><rect x="507.00" y="118.40" width="6" height="0.55" fill="#6a6a6a"/><rect x="505.50" y="120.40" width="9" height="0.6" fill="#6a6a6a"/><rect x="505.25" y="122.40" width="9.5" height="0.6" fill="#6a6a6a"/><rect x="505.75" y="124.40" width="8.5" height="0.6" fill="#6a6a6a"/><rect x="507.75" y="126.20" width="4.5" height="0.45" fill="#6a6a6a"/><circle cx="520.75" cy="233.75" r="6.0" fill="#8548d6" stroke="#6428b4" stroke-width="0.8"/><rect x="517.75" y="230.15" width="6" height="0.55" fill="#c8a8f4"/><rect x="516.25" y="232.15" width="9" height="0.6" fill="#c8a8f4"/><rect x="516.00" y="234.15" width="9.5" height="0.6" fill="#c8a8f4"/><rect x="516.50" y="236.15" width="8.5" height="0.6" fill="#c8a8f4"/><rect x="518.50" y="237.95" width="4.5" height="0.45" fill="#c8a8f4"/><circle cx="536" cy="171" r="6.0" fill="#fdf9f0" stroke="#c8b898" stroke-width="0.8"/><rect x="533.00" y="167.40" width="6" height="0.55" fill="#808080"/><rect x="531.50" y="169.40" width="9" height="0.6" fill="#808080"/><rect x="531.25" y="171.40" width="9.5" height="0.6" fill="#808080"/><rect x="531.75" y="173.40" width="8.5" height="0.6" fill="#808080"/><rect x="533.75" y="175.20" width="4.5" height="0.45" fill="#808080"/><circle cx="565" cy="242.5" r="6.0" fill="#ffffff" stroke="#5c5c5c" stroke-width="0.8"/><rect x="562.00" y="238.90" width="6" height="0.55" fill="#7a7a7a"/><rect x="560.50" y="240.90" width="9" height="0.6" fill="#7a7a7a"/><rect x="560.25" y="242.90" width="9.5" height="0.6" fill="#7a7a7a"/><rect x="560.75" y="244.90" width="8.5" height="0.6" fill="#7a7a7a"/><rect x="562.75" y="246.70" width="4.5" height="0.45" fill="#7a7a7a"/><circle cx="586" cy="183.75" r="6.0" fill="#fdf9f0" stroke="#c8b898" stroke-width="0.8"/><rect x="583.00" y="180.15" width="6" height="0.55" fill="#808080"/><rect x="581.50" y="182.15" width="9" height="0.6" fill="#808080"/><rect x="581.25" y="184.15" width="9.5" height="0.6" fill="#808080"/><rect x="581.75" y="186.15" width="8.5" height="0.6" fill="#808080"/><rect x="583.75" y="187.95" width="4.5" height="0.45" fill="#808080"/></svg>
<svg width="600" height="400" viewBox="0 0 600 400"><defs><filter id="sh" x="-10%" y="-30%" width="120%" height="160%"><feGaussianBlur stdDeviation="0.8"/></filter></defs><g stroke="#c2121c" stroke-width="2.5" stroke-linecap="butt"><line x1="15" y1="166.5" x2="220" y2="172.8"/><line x1="15" y1="167.5" x2="362" y2="183.8"/><line x1="15" y1="169.4" x2="287" y2="184.1"/><line x1="15" y1="167.5" x2="219" y2="191"/><line x1="-5" y1="170" x2="27.5" y2="215.5"/></g><g stroke="#4472c8" stroke-width="2.3" stroke-linecap="round"><line x1="201" y1="148" x2="346" y2="322"/><line x1="369" y1="226" x2="347" y2="322"/><line x1="449" y1="241" x2="349" y2="322"/></g><g stroke="#000" stroke-width="2" stroke-linecap="round"><line x1="379" y1="264" x2="610" y2="130.5"/><line x1="521.5" y1="120.6" x2="566" y2="118.5"/></g><g stroke="#7432ac" stroke-width="2" stroke-linecap="round"><line x1="463" y1="302.5" x2="578" y2="322"/><line x1="526" y1="242" x2="578" y2="322"/><line x1="578" y1="322" x2="612" y2="299"/></g><g font-family="Liberation Sans, sans-serif" fill="#fff"><rect x="-10" y="148.5" width="78.7" height="21.2" rx="2" fill="#c20006"/><text x="-1.5" y="163.6" font-size="14" textLength="49.7" lengthAdjust="spacingAndGlyphs" stroke="#fff" stroke-width="0.3">ddresses</text><rect x="300.1" y="322.8" width="87.5" height="21.1" rx="2.5" fill="#000" opacity="0.12" filter="url(#sh)"/><rect x="300.1" y="321.9" width="87.5" height="21.1" rx="2.5" fill="#4472c8"/><text x="317.9" y="337.2" font-size="12.9" textLength="52.3" lengthAdjust="spacingAndGlyphs" stroke="#fff" stroke-width="0.2">Exchange</text><rect x="564.5" y="105" width="50" height="21.8" rx="2.5" fill="#111"/><text x="572.6" y="120.5" font-size="13" textLength="32" lengthAdjust="spacingAndGlyphs" stroke="#fff" stroke-width="0.2">Hydra</text><rect x="499.2" y="322.9" width="120" height="21.1" rx="2.5" fill="#000" opacity="0.12" filter="url(#sh)"/><rect x="499.2" y="322" width="120" height="21.1" rx="2.5" fill="#7432ac"/><text x="519" y="337.2" font-size="12.1" textLength="105" lengthAdjust="spacingAndGlyphs" stroke="#fff" stroke-width="0.2">High-Risk Exchange</text></g><text x="551.3" y="45.6" font-family="Liberation Sans, sans-serif" font-weight="bold" font-size="15.9" letter-spacing="1" fill="#1e88d0">CIPHERTRACE</text><text transform="translate(470.5,377.4) scale(0.913,1)" x="0" y="0" font-family="Liberation Sans, sans-serif" font-size="11.5" fill="#111">Source: CipherTrace Cryptocurrency Intelligence</text></svg>
</body></html>
